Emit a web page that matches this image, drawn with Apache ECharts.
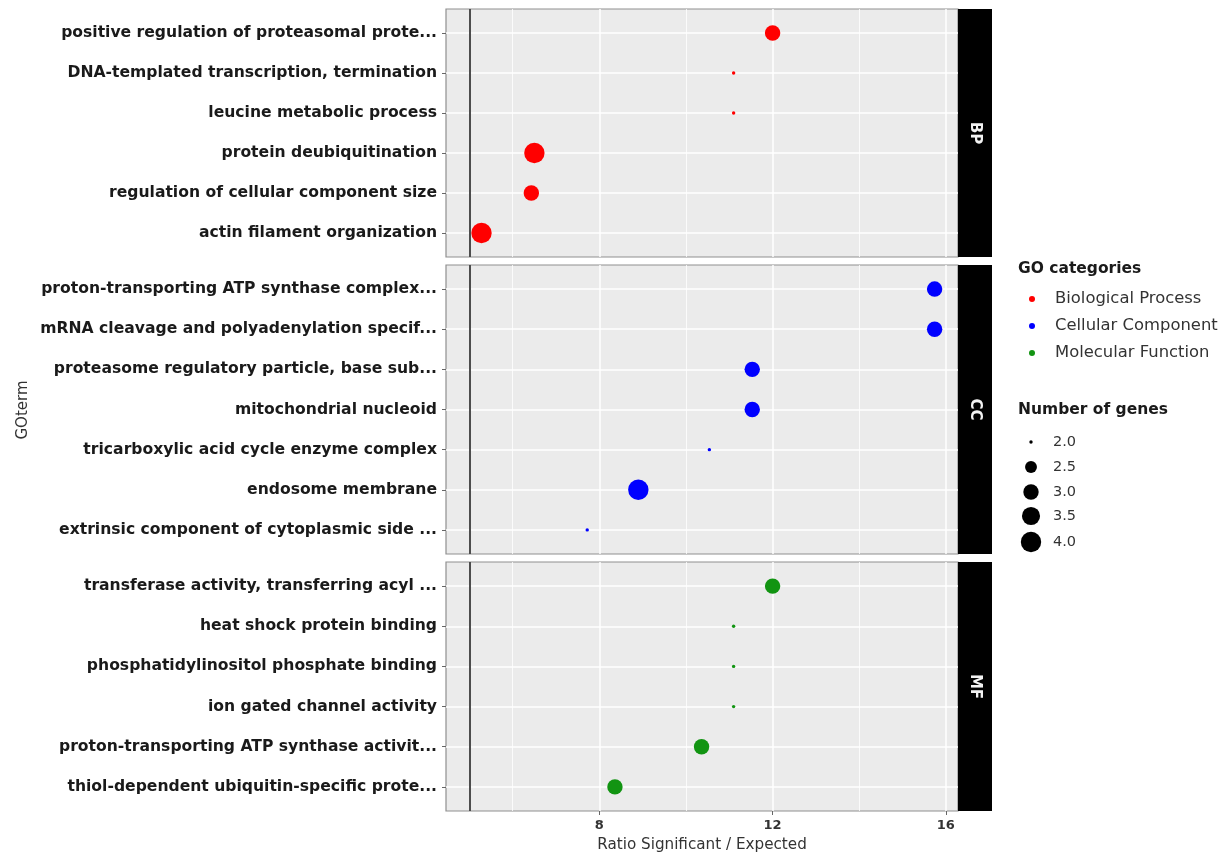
<!doctype html>
<html>
<head>
<meta charset="utf-8" />
<script src="https://cdn.jsdelivr.net/npm/echarts@6/dist/echarts.min.js" type="text/javascript"></script>
<style>
html, body { margin: 0; padding: 0; background: #fff; }
#chart { width: 1224px; height: 858px; }
</style>
</head>
<body>
<div id="chart"></div>
<script>
// GO terms per category, top to bottom as in the picture
const bpTerms = ["positive regulation of proteasomal prote...", "DNA-templated transcription, termination",
    "leucine metabolic process", "protein deubiquitination", "regulation of cellular component size",
    "actin filament organization"];
const bpRatio = [12.0, 11.1, 11.1, 6.5, 6.43, 5.28];
const bpGenes = [3, 2, 2, 4, 3, 4];

const ccTerms = ["proton-transporting ATP synthase complex...", "mRNA cleavage and polyadenylation specif...",
    "proteasome regulatory particle, base sub...", "mitochondrial nucleoid", "tricarboxylic acid cycle enzyme complex",
    "endosome membrane", "extrinsic component of cytoplasmic side ..."];
const ccRatio = [15.74, 15.74, 11.53, 11.53, 10.54, 8.9, 7.72];
const ccGenes = [3, 3, 3, 3, 2, 4, 2];

const mfTerms = ["transferase activity, transferring acyl ...", "heat shock protein binding",
    "phosphatidylinositol phosphate binding", "ion gated channel activity",
    "proton-transporting ATP synthase activit...", "thiol-dependent ubiquitin-specific prote..."];
const mfRatio = [12.0, 11.1, 11.1, 11.1, 10.36, 8.36];
const mfGenes = [3, 2, 2, 2, 3, 3];

const categories = ["Biological Process", "Cellular Component", "Molecular Function"];
const stripLabels = ["BP", "CC", "MF"];
const sizeBreaks = [2.0, 2.5, 3.0, 3.5, 4.0];
const xMajorTicks = [8, 12, 16];
const xMinorTicks = [6, 10, 14];
const vlineX = 5;

const COLORS = ['#FF0000', '#0000FF', '#129412'];
const FONT = '"DejaVu Sans", Verdana, sans-serif';
const X_MIN = 4.46, X_MAX = 16.28;
const PANEL_LEFT = 446, PANEL_W = 512, STRIP_W = 34;
const PANEL_TOP = [9, 265, 562];
const PANEL_H = [248, 289, 249];
const SIZE_LEGEND_Y = [442, 467, 492, 516, 542];

// ggplot-like area scale: genes 2..4 -> diameter
function sizeScale(v) {
    return 3.4 * (1 + 5 * Math.sqrt((v - 2) / 2));
}

const panels = [
    { terms: bpTerms, ratio: bpRatio, genes: bpGenes },
    { terms: ccTerms, ratio: ccRatio, genes: ccGenes },
    { terms: mfTerms, ratio: mfRatio, genes: mfGenes }
];

let grids = [], xAxes = [], minorAxes = [], yAxes = [], series = [], graphics = [];

panels.forEach((p, i) => {
    const idx = p.terms.map((t, j) => j);
    const last = i === panels.length - 1;
    grids.push({
        left: PANEL_LEFT, width: PANEL_W, top: PANEL_TOP[i], height: PANEL_H[i],
        show: true, backgroundColor: '#EBEBEB', borderColor: '#8f8f8f', borderWidth: 1.2
    });
    xAxes.push({
        type: 'value', gridIndex: i, min: X_MIN, max: X_MAX,
        axisLine: { show: false, onZero: false },
        axisTick: { show: last, length: 4, customValues: xMajorTicks, lineStyle: { color: '#666' } },
        axisLabel: {
            show: last, customValues: xMajorTicks, margin: 8,
            fontFamily: FONT, fontWeight: 'bold', fontSize: 13, color: '#333'
        },
        splitLine: { show: true, lineStyle: { color: '#fff', width: 1.5 } },
        name: last ? 'Ratio Significant / Expected' : '',
        nameLocation: 'middle', nameGap: 27,
        nameTextStyle: { fontFamily: FONT, fontSize: 15.2, color: '#333' }
    });
    minorAxes.push({
        type: 'value', gridIndex: i, position: 'top', min: X_MIN, max: X_MAX,
        axisLine: { show: false, onZero: false },
        axisTick: { show: false, customValues: xMinorTicks },
        axisLabel: { show: false },
        splitLine: { show: true, lineStyle: { color: '#fff', width: 0.8 } }
    });
    yAxes.push({
        type: 'value', gridIndex: i, inverse: true, min: -0.6, max: p.terms.length - 0.4,
        axisLine: { show: false, onZero: false },
        axisTick: { show: true, length: 4, customValues: idx, lineStyle: { color: '#666' } },
        axisLabel: {
            customValues: idx, margin: 9,
            formatter: v => p.terms[Math.round(v)],
            fontFamily: FONT, fontWeight: 'bold', fontSize: 15.6, color: '#1a1a1a'
        },
        splitLine: { show: true, lineStyle: { color: '#fff', width: 1.5 } }
    });
    series.push({
        type: 'scatter', name: categories[i], xAxisIndex: i, yAxisIndex: i,
        data: p.ratio.map((r, j) => [r, j, p.genes[j]]),
        symbol: 'circle',
        symbolSize: val => sizeScale(val[2]),
        itemStyle: { color: COLORS[i], opacity: 1 },
        markLine: {
            silent: true, symbol: 'none', label: { show: false },
            lineStyle: { color: '#4d4d4d', width: 2, type: 'solid' },
            data: [{ xAxis: vlineX }]
        },
        z: 3
    });
    // facet strip
    graphics.push({
        type: 'rect', shape: { x: PANEL_LEFT + PANEL_W, y: PANEL_TOP[i], width: STRIP_W, height: PANEL_H[i] },
        style: { fill: '#000' }
    });
    graphics.push({
        type: 'text', x: PANEL_LEFT + PANEL_W + STRIP_W / 2, y: PANEL_TOP[i] + PANEL_H[i] / 2,
        rotation: -Math.PI / 2,
        style: {
            text: stripLabels[i], x: 0, y: 0, fill: '#f2f2f2', font: 'bold 15px ' + FONT,
            align: 'center', verticalAlign: 'middle', textAlign: 'center', textVerticalAlign: 'middle'
        }
    });
});

// dummy series for the size legend
sizeBreaks.forEach(b => {
    series.push({ type: 'scatter', name: b.toFixed(1), data: [], itemStyle: { color: '#000', opacity: 1 } });
});

let legends = [{
    orient: 'vertical', left: 1029, top: 285.5, padding: 0, itemGap: 0,
    itemWidth: 6, itemHeight: 6, icon: 'circle', selectedMode: false,
    data: categories,
    textStyle: { fontFamily: FONT, fontSize: 16.4, lineHeight: 27, color: '#333', padding: [0, 0, 0, 15] }
}];
sizeBreaks.forEach((b, k) => {
    const d = sizeScale(b);
    legends.push({
        orient: 'vertical', left: 1031 - d / 2, top: SIZE_LEGEND_Y[k] - 11, padding: 0,
        itemWidth: d, itemHeight: d, icon: 'circle', selectedMode: false,
        data: [{ name: b.toFixed(1), itemStyle: { color: '#000', opacity: 1 } }],
        textStyle: { fontFamily: FONT, fontSize: 14.5, lineHeight: 22, color: '#333', padding: [0, 0, 0, 17 - d / 2] }
    });
});

graphics.push({
    type: 'text', x: 1018, y: 269,
    style: { text: 'GO categories', x: 0, y: 0, fill: '#1a1a1a', font: 'bold 15.5px ' + FONT,
        align: 'left', verticalAlign: 'middle', textAlign: 'left', textVerticalAlign: 'middle' }
});
graphics.push({
    type: 'text', x: 1018, y: 410,
    style: { text: 'Number of genes', x: 0, y: 0, fill: '#1a1a1a', font: 'bold 15.5px ' + FONT,
        align: 'left', verticalAlign: 'middle', textAlign: 'left', textVerticalAlign: 'middle' }
});
graphics.push({
    type: 'text', x: 23, y: 410, rotation: Math.PI / 2,
    style: { text: 'GOterm', x: 0, y: 0, fill: '#333', font: '15px ' + FONT,
        align: 'center', verticalAlign: 'middle', textAlign: 'center', textVerticalAlign: 'middle' }
});

const myChart = echarts.init(document.getElementById('chart'), null, { renderer: 'canvas' });
myChart.setOption({
    animation: false,
    backgroundColor: '#fff',
    grid: grids,
    xAxis: xAxes.concat(minorAxes),
    yAxis: yAxes,
    legend: legends,
    series: series,
    graphic: graphics
});
</script>
</body>
</html>
